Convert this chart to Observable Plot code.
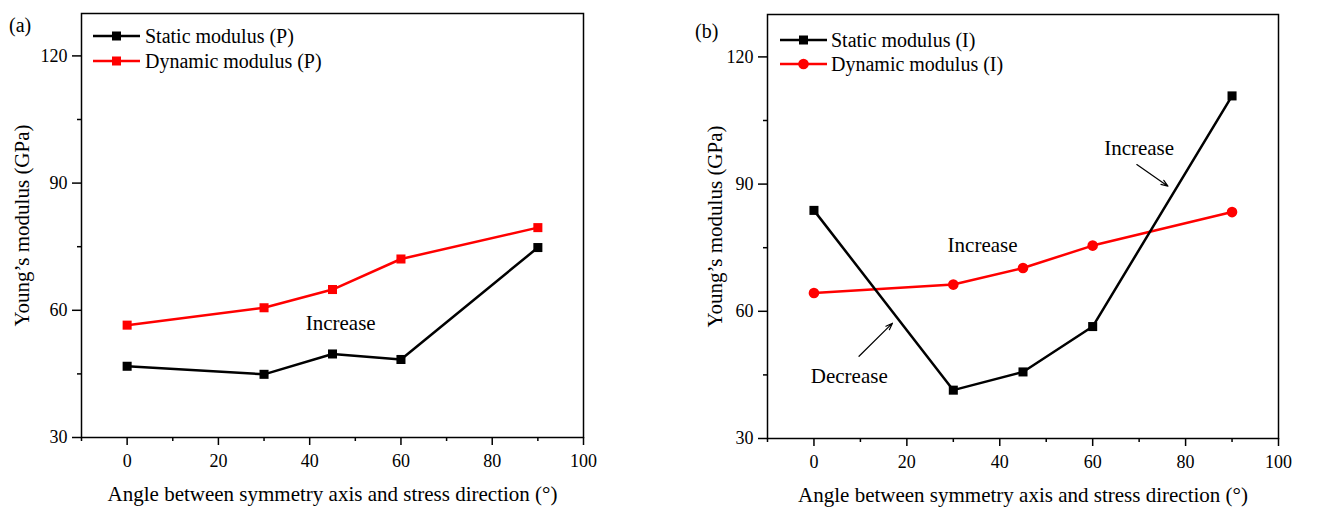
<!DOCTYPE html>
<html>
<head>
<meta charset="utf-8">
<script src="https://cdn.jsdelivr.net/npm/d3@7"></script>
<script src="https://cdn.jsdelivr.net/npm/@observablehq/plot@0.6"></script>
<style>
  html, body { margin: 0; padding: 0; background: white; }
  #wrap { display: flex; width: 1320px; height: 507px; }
  svg { display: block; }
</style>
</head>
<body>
<div id="wrap"></div>
<script>
// ---------- data ----------
const angles = [0, 30, 45, 60, 90];
const staticP = [46.8, 44.9, 49.7, 48.4, 74.8];
const dynamicP = [56.5, 60.6, 64.9, 72.1, 79.5];
const staticI = [83.8, 41.4, 45.7, 56.4, 110.8];
const dynamicI = [64.3, 66.3, 70.2, 75.5, 83.4];

const xMajor = [0, 20, 40, 60, 80, 100];
const xMinor = [-10, 10, 30, 50, 70, 90];
const yMajor = [30, 60, 90, 120];
const yMinor = [45, 75, 105];

const xTitle = "Angle between symmetry axis and stress direction (°)";
const yTitle = "Young’s modulus (GPa)";

const legendP = ["Static modulus (P)", "Dynamic modulus (P)"];
const legendI = ["Static modulus (I)", "Dynamic modulus (I)"];

// annotations
const annoA = [{x: 46.8, y: 57, text: "Increase"}];
const annoB = [
  {x: 36.3, y: 75.6, text: "Increase"},
  {x: 70, y: 98.4, text: "Increase"},
  {x: 7.6, y: 44.6, text: "Decrease"}
];
const arrowsB = [
  {x1: 69.5, y1: 94.6, x2: 76.2, y2: 89.5},
  {x1: 9.7, y1: 49.4, x2: 16.9, y2: 57.2}
];

const FONT = "'Liberation Serif', 'Times New Roman', serif";

function rows(ys) { return angles.map((a, i) => ({x: a, y: ys[i]})); }

function panel(opts) {
  const {ml, mr, mt, mb, s, d, dSymbol, annos, arrows, ytdx} = opts;
  return Plot.plot({
    width: 660,
    height: 507,
    marginLeft: ml, marginRight: mr, marginTop: mt, marginBottom: mb,
    style: {fontFamily: FONT, fontSize: "18px", color: "black", background: "white", overflow: "visible"},
    x: {domain: [-10, 100]},
    y: {domain: [30, 130]},
    marks: [
      Plot.frame({stroke: "black", strokeWidth: 1.5}),
      Plot.axisX(xMajor, {tickSize: 8, tickPadding: 9, fontSize: 18, label: null, stroke: "black", strokeWidth: 1.5}),
      Plot.axisX(xMinor, {tickSize: 4, tickFormat: () => "", label: null, stroke: "black", strokeWidth: 1.5}),
      Plot.axisY(yMajor, {tickSize: 9, tickPadding: 5, fontSize: 18, label: null, stroke: "black", strokeWidth: 1.5}),
      Plot.axisY(yMinor, {tickSize: 4, tickFormat: () => "", label: null, stroke: "black", strokeWidth: 1.5}),
      Plot.text([xTitle], {frameAnchor: "bottom", lineAnchor: "middle", textAnchor: "middle", dy: 57, fontSize: 21, fill: "black"}),
      Plot.text([yTitle], {frameAnchor: "left", lineAnchor: "middle", textAnchor: "middle", dx: ytdx, rotate: -90, fontSize: 21, fill: "black"}),
      Plot.line(rows(d), {x: "x", y: "y", stroke: "#ff0000", strokeWidth: 2.5}),
      Plot.line(rows(s), {x: "x", y: "y", stroke: "black", strokeWidth: 2.5}),
      Plot.dot(rows(d), {x: "x", y: "y", symbol: dSymbol, r: dSymbol === "circle" ? 5.3 : 5.1, fill: "#ff0000", stroke: "none"}),
      Plot.dot(rows(s), {x: "x", y: "y", symbol: "square", r: 5.1, fill: "black", stroke: "none"}),
      Plot.text(annos, {x: "x", y: "y", text: "text", fontSize: 21, fill: "black"}),
      Plot.arrow(arrows, {x1: "x1", y1: "y1", x2: "x2", y2: "y2", stroke: "black", strokeWidth: 1.2, headLength: 9, headAngle: 40})
    ]
  });
}

function addLegend(svg, labels, lx0, lx1, ys, textX, dSymbol, letter, letterX, letterY) {
  const g = d3.select(svg).append("g").attr("font-family", FONT).attr("text-anchor", "start");
  const colors = ["black", "#ff0000"];
  const syms = ["square", dSymbol];
  labels.forEach((lab, i) => {
    const y = ys[i];
    g.append("line").attr("x1", lx0).attr("x2", lx1).attr("y1", y).attr("y2", y)
      .attr("stroke", colors[i]).attr("stroke-width", 2.3);
    const cx = (lx0 + lx1) / 2;
    if (syms[i] === "square") {
      g.append("rect").attr("x", cx - 4.5).attr("y", y - 4.5).attr("width", 9).attr("height", 9).attr("fill", colors[i]);
    } else {
      g.append("circle").attr("cx", cx).attr("cy", y).attr("r", 5.3).attr("fill", colors[i]);
    }
    g.append("text").attr("x", textX).attr("y", y).attr("dy", "0.35em")
      .attr("font-size", 20).attr("fill", "black").text(lab);
  });
  g.append("text").attr("x", letterX).attr("y", letterY).attr("dy", "0.35em")
    .attr("font-size", 20).attr("fill", "black").text(letter);
}

const wrap = document.getElementById("wrap");
const a = panel({ml: 81, mr: 77, mt: 13, mb: 70, s: staticP, d: dynamicP, dSymbol: "square", annos: annoA, arrows: [], ytdx: -59});
const b = panel({ml: 107, mr: 42, mt: 14, mb: 69, s: staticI, d: dynamicI, dSymbol: "circle", annos: annoB, arrows: arrowsB, ytdx: -52});
wrap.appendChild(a);
wrap.appendChild(b);
addLegend(a, legendP, 93, 140, [36, 61], 145, "square", "(a)", 9, 25);
addLegend(b, legendI, 120, 167, [40, 64], 171, "circle", "(b)", 35, 31);
</script>
</body>
</html>
